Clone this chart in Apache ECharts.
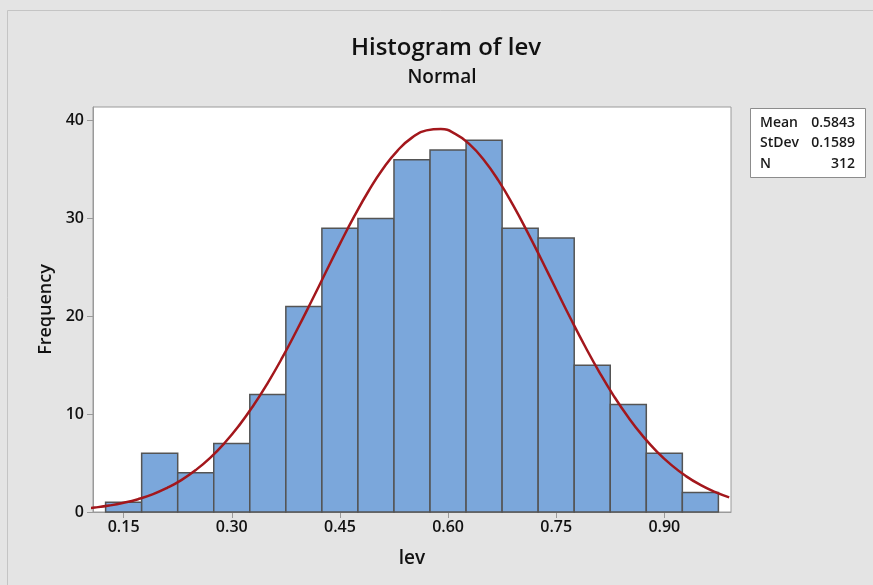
<!DOCTYPE html>
<html>
<head>
<meta charset="utf-8">
<script src="https://cdn.jsdelivr.net/npm/echarts@6.0.0/dist/echarts.min.js"></script>
<style>
  html, body { margin: 0; padding: 0; background: #e4e4e4; }
  #chart { width: 873px; height: 585px; }
</style>
</head>
<body>
<div id="chart"></div>
<script>
// histogram bins (centres) and counts
const binCenters = [0.15, 0.2, 0.25, 0.3, 0.35, 0.4, 0.45, 0.5, 0.55, 0.6, 0.65, 0.7, 0.75, 0.8, 0.85, 0.9, 0.95]
const counts = [1, 6, 4, 7, 12, 21, 29, 30, 36, 37, 38, 29, 28, 15, 11, 6, 2]
const binWidth = 0.05

// fitted normal curve
const curveX = [0.09, 0.11, 0.13, 0.15, 0.17, 0.19, 0.21, 0.23, 0.25, 0.27, 0.29, 0.31, 0.33, 0.35, 0.37, 0.39,
  0.41, 0.43, 0.45, 0.47, 0.49, 0.51, 0.53, 0.55, 0.57, 0.59, 0.61, 0.63, 0.65, 0.67, 0.69, 0.71, 0.73,
  0.75, 0.77, 0.79, 0.81, 0.83, 0.85, 0.87, 0.89, 0.91, 0.93, 0.95, 0.97, 0.99]
const curveY = [0.31, 0.46, 0.66, 0.94, 1.31, 1.8, 2.45, 3.26, 4.29, 5.54, 7.05, 8.83, 10.89, 13.21, 15.77, 18.55,
  21.46, 24.45, 27.41, 30.24, 32.84, 35.12, 36.95, 38.27, 39.01, 39.14, 38.66, 37.58, 35.96, 33.87, 31.39, 28.64, 25.73,
  22.74, 19.78, 16.94, 14.28, 11.85, 9.68, 7.78, 6.15, 4.79, 3.67, 2.77, 2.06, 1.5]

const xTicks = [0.15, 0.3, 0.45, 0.6, 0.75, 0.9]
const yTicks = [0, 10, 20, 30, 40]
const statNames = ['Mean', 'StDev', 'N']
const statValues = ['0.5843', '0.1589', '312']

const font = '"Open Sans", "Noto Sans", sans-serif'
const axisGray = '#9a9a9a'

const chart = echarts.init(document.getElementById('chart'))

const statText = []
statNames.forEach((name, i) => {
  statText.push({
    type: 'text', left: 760, top: 116 + i * 20.5,
    style: { text: name, font: `600 14px ${font}`, fill: '#1a1a1a' },
  })
  statText.push({
    type: 'text', right: 18, top: 116 + i * 20.5,
    style: { text: statValues[i], font: `600 14px ${font}`, fill: '#1a1a1a', textAlign: 'right' },
  })
})

const option = {
  backgroundColor: '#e4e4e4',
  animation: false,
  textStyle: { fontFamily: font },
  grid: {
    left: 93,
    top: 107,
    right: 142,
    bottom: 73,
    show: true,
    backgroundColor: '#ffffff',
    borderColor: axisGray,
    borderWidth: 1,
  },
  graphic: [
    {
      type: 'polyline',
      shape: { points: [[7.5, 585], [7.5, 10.5], [873, 10.5]] },
      style: { stroke: '#c4c4c4', lineWidth: 1, fill: null },
    },
    {
      type: 'text', x: 446, y: 48,
      style: { text: 'Histogram of lev', font: `600 24px ${font}`, fill: '#111', textAlign: 'center', textVerticalAlign: 'middle' },
    },
    {
      type: 'text', x: 442, y: 78,
      style: { text: 'Normal', font: `600 19px ${font}`, fill: '#111', textAlign: 'center', textVerticalAlign: 'middle' },
    },
    {
      type: 'rect',
      shape: { x: 750.5, y: 108.5, width: 115, height: 69 },
      style: { fill: '#ffffff', stroke: '#8c8c8c', lineWidth: 1 },
    },
    ...statText,
  ],
  xAxis: {
    type: 'value',
    min: 0.1075,
    max: 0.9925,
    name: 'lev',
    nameLocation: 'middle',
    nameGap: 37,
    nameTextStyle: { fontSize: 19, fontWeight: 600, color: '#111' },
    splitLine: { show: false },
    axisLine: { show: true, lineStyle: { color: axisGray } },
    axisTick: { show: true, length: 6, lineStyle: { color: axisGray }, customValues: xTicks },
    axisLabel: {
      customValues: xTicks,
      formatter: (v) => v.toFixed(2),
      fontSize: 16,
      fontWeight: 600,
      color: '#111',
      margin: 7,
    },
  },
  yAxis: {
    type: 'value',
    min: 0,
    max: 41.4,
    name: 'Frequency',
    nameLocation: 'middle',
    nameGap: 38,
    nameTextStyle: { fontSize: 18, fontWeight: 600, color: '#111' },
    splitLine: { show: false },
    axisLine: { show: true, lineStyle: { color: axisGray } },
    axisTick: { show: true, length: 6, lineStyle: { color: axisGray }, customValues: yTicks },
    axisLabel: {
      customValues: yTicks,
      fontSize: 16,
      fontWeight: 600,
      color: '#111',
      margin: 9,
    },
  },
  series: [
    {
      type: 'custom',
      data: binCenters.map((c, i) => [c, counts[i]]),
      renderItem: (params, api) => {
        const c = api.value(0)
        const p0 = api.coord([c - binWidth / 2, api.value(1)])
        const p1 = api.coord([c + binWidth / 2, 0])
        return {
          type: 'rect',
          shape: { x: p0[0], y: p0[1], width: p1[0] - p0[0], height: p1[1] - p0[1] },
          style: { fill: '#7ba7db', stroke: '#545454', lineWidth: 1.5 },
        }
      },
      z: 2,
    },
    {
      type: 'line',
      data: curveX.map((x, i) => [x, curveY[i]]),
      smooth: true,
      showSymbol: false,
      clip: true,
      lineStyle: { color: '#a3171c', width: 2.5 },
      z: 3,
    },
  ],
}

chart.setOption(option)
</script>
</body>
</html>
